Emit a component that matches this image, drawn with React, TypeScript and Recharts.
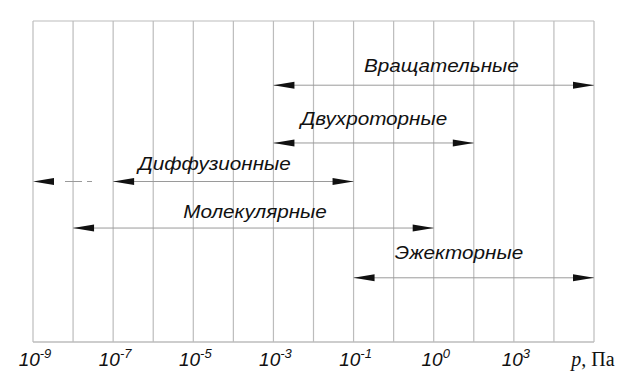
import { CartesianGrid, ComposedChart, Line, ReferenceLine, Scatter, XAxis, YAxis } from "recharts"

// vertical grid: 14 equal steps along the pressure axis
const gridTicks = [0, 1, 2, 3, 4, 5, 6, 7, 8, 9, 10, 11, 12, 13, 14]
const labelTicks = [0, 2, 4, 6, 8, 10, 12]
const exponents = ["-9", "-7", "-5", "-3", "-1", "0", "3"]
const unitTick = 14

// pump types and their working pressure ranges (in grid steps)
const pumpNames = ["Вращательные", "Двухроторные", "Диффузионные", "Молекулярные", "Эжекторные"]
const rangeFrom = [6, 6, 2, 1, 8]
const rangeTo = [14, 11, 8, 10, 14]
const rowLevel = [80, 62, 50, 35.5, 20]
const nameAt = [10.19, 8.51, 4.53, 5.54, 10.63]
const nameLevel = [84, 67.6, 53.6, 38.6, 26]

// diffusion pumps: dashed continuation down to 10^-9
const extFrom = 0
const extTo = 2
const extLevel = 50

const GRID = "#bcbcbc"
const LINE = "#9a9a9a"
const INK = "#111"

function ArrowHead(props: any) {
  const { cx, cy, index, onlyFirst } = props
  if (cx == null || cy == null) return null
  if (onlyFirst && index !== 0) return null
  const dir = index === 0 ? 1 : -1
  const len = 21
  const half = 3.5
  return (
    <path
      d={`M${cx},${cy} L${cx + dir * len},${cy - half} L${cx + dir * len},${cy + half} Z`}
      fill={INK}
      stroke="none"
    />
  )
}

function PumpName(props: any) {
  const { cx, cy, payload } = props
  return (
    <text
      transform={`translate(${cx},${cy}) scale(1.15,1)`}
      textAnchor="middle"
      fontFamily="'Liberation Sans', Arial, sans-serif"
      fontStyle="italic"
      fontSize={18}
      fill={INK}
    >
      {payload.name}
    </text>
  )
}

function PressureTick(props: any) {
  const { x, y, payload } = props
  if (payload.value === unitTick) {
    return (
      <text x={x - 1} y={y + 16} textAnchor="middle" fontFamily="'Liberation Serif', 'Times New Roman', serif" fontSize={20} fill={INK}>
        <tspan fontStyle="italic">p</tspan>, Па
      </text>
    )
  }
  const i = labelTicks.indexOf(payload.value)
  if (i < 0) return <g />
  return (
    <text
      x={x + 2}
      y={y + 16}
      textAnchor="middle"
      fontFamily="'Liberation Sans', Arial, sans-serif"
      fontStyle="italic"
      fontSize={19}
      fill={INK}
    >
      10
      <tspan dy={-8} fontSize={13}>
        {exponents[i]}
      </tspan>
    </text>
  )
}

export default function App() {
  const names = pumpNames.map((name, i) => ({ x: nameAt[i], y: nameLevel[i], name }))

  return (
    <div style={{ width: 623, height: 378, background: "#fff" }}>
      <style>{"body{margin:0}"}</style>
      <ComposedChart width={623} height={378} margin={{ top: 21, right: 29, bottom: 6, left: 33 }}>
        <CartesianGrid horizontal={false} stroke={GRID} strokeWidth={1.2} />
        <XAxis
          type="number"
          dataKey="x"
          domain={[0, 14]}
          ticks={gridTicks}
          interval={0}
          allowDataOverflow
          tickLine={false}
          axisLine={{ stroke: GRID, strokeWidth: 1.4 }}
          tick={<PressureTick />}
          height={30}
        />
        <YAxis type="number" domain={[0, 100]} hide />
        <ReferenceLine y={100} stroke={GRID} strokeWidth={1.2} />
        <Line
          data={[
            { x: extFrom, y: extLevel },
            { x: extTo, y: extLevel },
          ]}
          dataKey="y"
          stroke={LINE}
          strokeWidth={1}
          strokeDasharray="0 32 17 5 5 21"
          dot={<ArrowHead onlyFirst />}
          activeDot={false}
          isAnimationActive={false}
        />
        {pumpNames.map((name, i) => (
          <Line
            key={name}
            data={[
              { x: rangeFrom[i], y: rowLevel[i] },
              { x: rangeTo[i], y: rowLevel[i] },
            ]}
            dataKey="y"
            stroke={LINE}
            strokeWidth={1}
            dot={<ArrowHead />}
            activeDot={false}
            isAnimationActive={false}
          />
        ))}
        <Scatter data={names} dataKey="y" shape={<PumpName />} isAnimationActive={false} />
      </ComposedChart>
    </div>
  )
}
